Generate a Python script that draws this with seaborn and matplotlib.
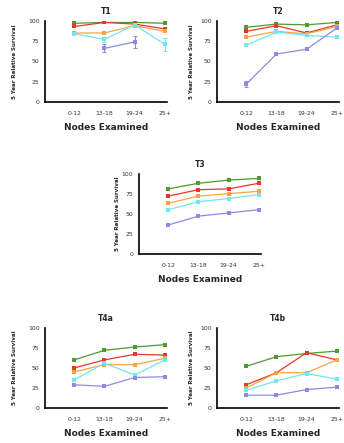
import numpy as np
import pandas as pd
import matplotlib
matplotlib.use('Agg')
import matplotlib.pyplot as plt
import seaborn as sns

#%%
node_groups = ['0-12', '13-18', '19-24', '25+']
series_names = ['green', 'red', 'orange', 'cyan', 'purple']
palette = {'green': '#4f9a2c', 'red': '#e2392c', 'orange': '#f4a540',
           'cyan': '#72e6ee', 'purple': '#8b8be6'}

# 5 year relative survival per T stage, one list per series
t1_green = [97, 98, 98, 97]
t1_red = [93, 98, 96, 90]
t1_orange = [85, 85, 94, 87]
t1_cyan = [84, 77, 95, 71]
t1_purple = [np.nan, 66, 74, np.nan]

t2_green = [92, 96, 95, 98]
t2_red = [87, 94, 85, 95]
t2_orange = [80, 87, 84, 93]
t2_cyan = [70, 86, 82, 80]
t2_purple = [22, 59, 65, 91]

t3_green = [81, 88, 92, 94]
t3_red = [72, 80, 81, 88]
t3_orange = [63, 72, 75, 78]
t3_cyan = [55, 65, 69, 74]
t3_purple = [36, 47, 51, 55]

t4a_green = [60, 72, 76, 79]
t4a_red = [50, 60, 67, 66]
t4a_orange = [45, 54, 54, 62]
t4a_cyan = [35, 56, 41, 60]
t4a_purple = [29, 27, 38, 39]

t4b_green = [52, 64, 68, 71]
t4b_red = [29, 44, 69, 60]
t4b_orange = [25, 44, 44, 60]
t4b_cyan = [22, 34, 43, 36]
t4b_purple = [16, 16, 23, 26]

# error bars (half widths) where visible
t1_cyan_err = [0, 3, 0, 8]
t1_purple_err = [0, 5, 7, 0]
t2_purple_err = [4, 0, 0, 0]

#%%
def build_df(green, red, orange, cyan, purple):
    rows = []
    for name, vals in zip(series_names, [green, red, orange, cyan, purple]):
        for i, v in enumerate(vals):
            rows.append({'pos': i, 'Survival': v, 'Series': name})
    return pd.DataFrame(rows).dropna()


panels = {
    'T1': build_df(t1_green, t1_red, t1_orange, t1_cyan, t1_purple),
    'T2': build_df(t2_green, t2_red, t2_orange, t2_cyan, t2_purple),
    'T3': build_df(t3_green, t3_red, t3_orange, t3_cyan, t3_purple),
    'T4a': build_df(t4a_green, t4a_red, t4a_orange, t4a_cyan, t4a_purple),
    'T4b': build_df(t4b_green, t4b_red, t4b_orange, t4b_cyan, t4b_purple),
}

errors = {
    'T1': [('cyan', t1_cyan, t1_cyan_err), ('purple', t1_purple, t1_purple_err)],
    'T2': [('purple', t2_purple, t2_purple_err)],
}

positions = {
    'T1': [0.131, 0.770, 0.355, 0.183],
    'T2': [0.631, 0.770, 0.355, 0.183],
    'T3': [0.404, 0.427, 0.355, 0.181],
    'T4a': [0.131, 0.079, 0.355, 0.181],
    'T4b': [0.631, 0.079, 0.355, 0.181],
}
ylabel_pad = {'T1': 8, 'T2': 4.5, 'T3': 1.5, 'T4a': 8, 'T4b': 4.5}

#%%
sns.set_style('white')
plt.rcParams['font.family'] = ['DejaVu Sans']

fig = plt.figure(figsize=(3.44, 4.43), dpi=100)

for title, df in panels.items():
    ax = fig.add_axes(positions[title])
    sns.lineplot(data=df, x='pos', y='Survival', hue='Series', palette=palette,
                 hue_order=series_names, marker='s', markersize=2.8,
                 markeredgewidth=0, linewidth=0.9, legend=False, ax=ax)
    for name, vals, err in errors.get(title, []):
        x = [i for i, e in enumerate(err) if e > 0]
        y = [vals[i] for i in x]
        e = [err[i] for i in x]
        ax.errorbar(x, y, yerr=e, fmt='none', ecolor=palette[name],
                    elinewidth=0.8, capsize=1.5, capthick=0.8)
    ax.set_xlim(-0.97, 3.08)
    ax.set_ylim(0, 100)
    ax.set_xticks(range(len(node_groups)))
    ax.set_xticklabels(node_groups)
    ax.set_yticks([0, 25, 50, 75, 100])
    ax.tick_params(axis='both', labelsize=4.4, length=2.5, width=1.0, pad=1.5,
                   direction='out', color='black', labelcolor='#333333')
    ax.tick_params(axis='x', pad=4)
    for side in ['top', 'right']:
        ax.spines[side].set_visible(False)
    for side in ['left', 'bottom']:
        ax.spines[side].set_linewidth(1.2)
        ax.spines[side].set_color('black')
    ax.set_title(title, fontsize=5.5, fontweight='bold', pad=5)
    ax.set_xlabel('Nodes Examined', fontsize=6.5, fontweight='bold', labelpad=5)
    ax.set_ylabel('5 Year Relative Survival', fontsize=4, fontweight='bold',
                  labelpad=ylabel_pad[title])

plt.savefig('out.png', dpi=100)
